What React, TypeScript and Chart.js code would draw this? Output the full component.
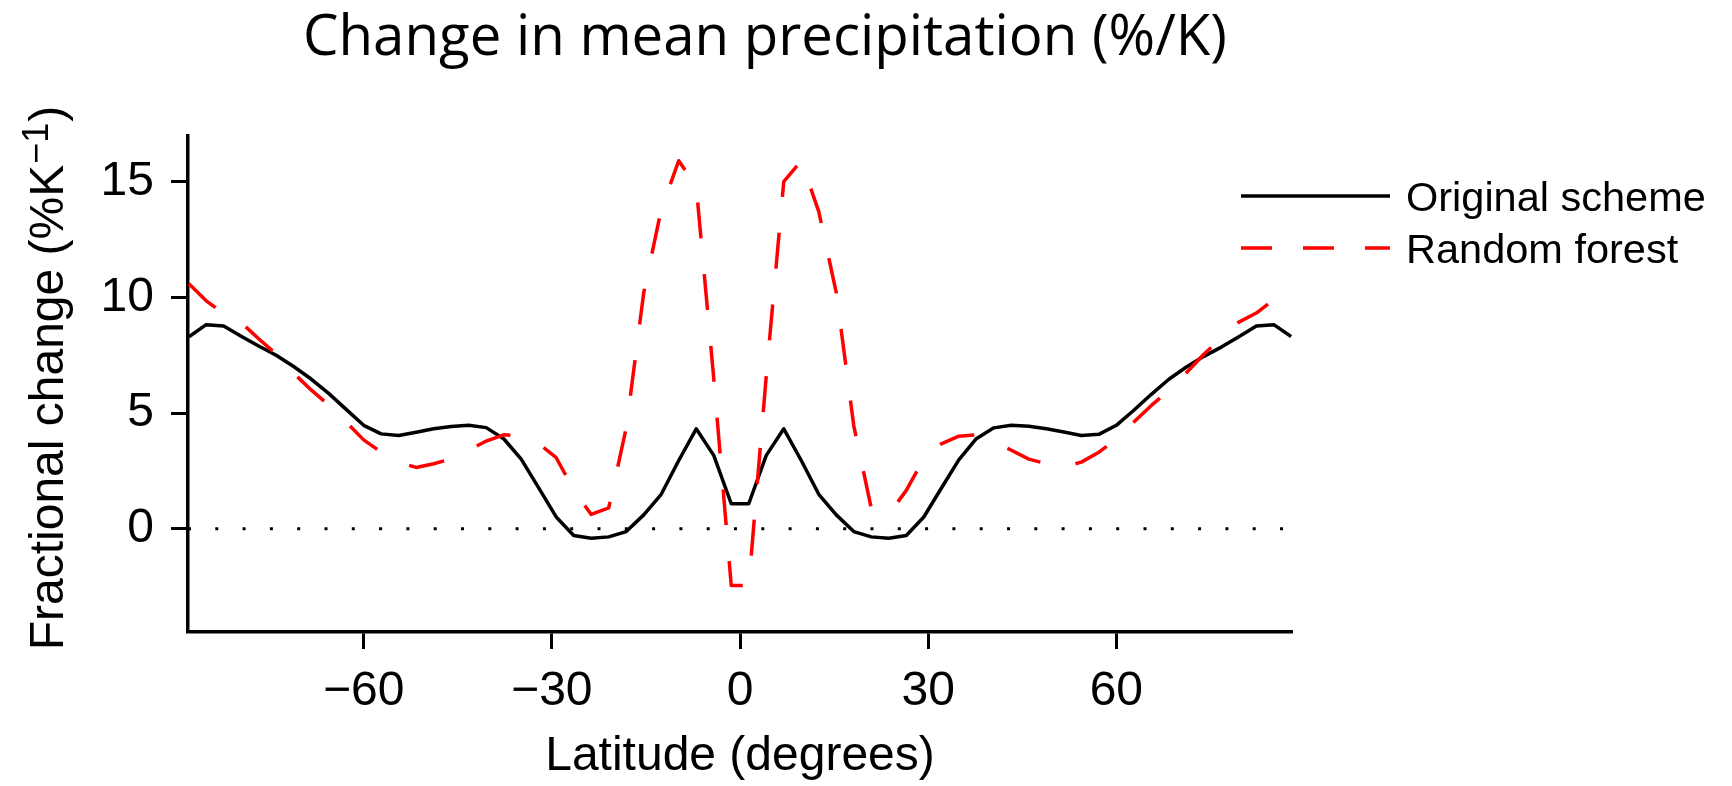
import React, { useEffect, useRef } from "react";
import { Chart, registerables } from "chart.js";

Chart.register(...registerables);

// ---------- data ----------
const latitude = [
  -87.8638, -85.0965, -82.3129, -79.5256, -76.7369, -73.9475, -71.1578, -68.3678,
  -65.5776, -62.7874, -59.997, -57.2066, -54.4162, -51.6257, -48.8352, -46.0447,
  -43.2542, -40.4636, -37.6731, -34.8825, -32.092, -29.3014, -26.5108, -23.7202,
  -20.9296, -18.139, -15.3484, -12.5578, -9.7671, -6.9765, -4.1859, -1.3953,
  1.3953, 4.1859, 6.9765, 9.7671, 12.5578, 15.3484, 18.139, 20.9296,
  23.7202, 26.5108, 29.3014, 32.092, 34.8825, 37.6731, 40.4636, 43.2542,
  46.0447, 48.8352, 51.6257, 54.4162, 57.2066, 59.997, 62.7874, 65.5776,
  68.3678, 71.1578, 73.9475, 76.7369, 79.5256, 82.3129, 85.0965, 87.8638,
];

const originalScheme = [
  8.29, 8.82, 8.76, 8.32, 7.9, 7.5, 7.01, 6.47, 5.85, 5.16,
  4.47, 4.1, 4.03, 4.17, 4.32, 4.42, 4.47, 4.37, 3.89, 3.01,
  1.77, 0.51, -0.29, -0.41, -0.35, -0.12, 0.6, 1.49, 2.95, 4.32,
  3.17, 1.08,
  1.08, 3.17, 4.32, 2.95, 1.49, 0.6, -0.12, -0.35, -0.41, -0.29,
  0.51, 1.75, 2.98, 3.89, 4.36, 4.47, 4.43, 4.32, 4.18, 4.03,
  4.08, 4.47, 5.12, 5.81, 6.46, 6.99, 7.45, 7.85, 8.3, 8.76,
  8.82, 8.31,
];

const randomForest = [
  10.59, 9.85, 9.3, 8.91, 8.21, 7.55, 6.72, 6.0, 5.35, 4.61,
  3.84, 3.31, 2.87, 2.65, 2.81, 3.02, 3.39, 3.79, 4.06, 4.0,
  3.68, 3.07, 1.68, 0.62, 0.9, 4.35, 10.2, 13.8, 15.9, 14.8,
  6.5, -2.45,
  -2.45, 6.6, 15.0, 15.9, 13.7, 10.2, 4.45, 0.88, 0.62, 1.66,
  3.03, 3.67, 4.0, 4.06, 3.79, 3.39, 3.01, 2.81, 2.67, 2.88,
  3.31, 3.86, 4.61, 5.33, 5.98, 6.74, 7.54, 8.24, 8.93, 9.32,
  9.9, 10.59,
];

const seriesLabels = ["Original scheme", "Random forest"];
const xTickValues = [-60, -30, 0, 30, 60];
const yTickValues = [0, 5, 10, 15];
const xRange = [-88, 88];
const yRange = [-4.46, 16.97];
const zeroLevel = 0;

const chartTitle = "Change in mean precipitation (%/K)";
const xAxisTitle = "Latitude (degrees)";
const yAxisTitleMain = "Fractional change (%K";
const yAxisTitleSup = "\u22121";
const yAxisTitleEnd = ")";

// ---------- styling ----------
const W = 1732;
const H = 786;
const PLOT = { left: 188, right: 1292, top: 136, bottom: 632 };
const AXIS_FONT = '"Liberation Sans", Arial, Helvetica, sans-serif';
const RED = "#ff0000";
const PLOT_DASH = [36, 36];
const LEGEND_DASH = [31, 31];
const LINE_W = 3.5;

const fmtTick = (v: number) => (v < 0 ? "\u2212" + Math.abs(v) : String(v));

const decorPlugin = {
  id: "decor",
  afterDraw(chart: any) {
    const ctx: CanvasRenderingContext2D = chart.ctx;
    const area = chart.chartArea;
    ctx.save();
    ctx.fillStyle = "#000";
    ctx.textAlign = "left";
    ctx.textBaseline = "alphabetic";

    // Title
    ctx.font = '56px "Open Sans", Lato, sans-serif';
    const tw = ctx.measureText(chartTitle).width;
    const targetW = 924;
    ctx.save();
    ctx.translate(765 - targetW / 2, 55);
    ctx.scale(targetW / tw, 1);
    ctx.fillText(chartTitle, 0, 0);
    ctx.restore();

    // X axis title
    ctx.font = "48px " + AXIS_FONT;
    ctx.textAlign = "center";
    ctx.fillText(xAxisTitle, (area.left + area.right) / 2, 770);

    // Y axis title (rotated, with superscript)
    ctx.textAlign = "left";
    ctx.font = "48px " + AXIS_FONT;
    const w1 = ctx.measureText(yAxisTitleMain).width;
    const w3 = ctx.measureText(yAxisTitleEnd).width;
    ctx.font = "36px " + AXIS_FONT;
    const w2 = ctx.measureText(yAxisTitleSup).width;
    const total = w1 + w2 + w3 + 2;
    ctx.save();
    ctx.translate(63, (area.top + area.bottom) / 2 - 6);
    ctx.rotate(-Math.PI / 2);
    let pos = -total / 2;
    ctx.font = "48px " + AXIS_FONT;
    ctx.fillText(yAxisTitleMain, pos, 0);
    pos += w1 + 1;
    ctx.font = "36px " + AXIS_FONT;
    ctx.fillText(yAxisTitleSup, pos, -15);
    pos += w2 + 1;
    ctx.font = "48px " + AXIS_FONT;
    ctx.fillText(yAxisTitleEnd, pos, 0);
    ctx.restore();

    // Legend
    const legendItems = [
      { label: seriesLabels[0], color: "#000", dash: [] as number[], y: 196 },
      { label: seriesLabels[1], color: RED, dash: LEGEND_DASH, y: 248 },
    ];
    ctx.font = "41.5px " + AXIS_FONT;
    for (const it of legendItems) {
      ctx.save();
      ctx.strokeStyle = it.color;
      ctx.lineWidth = LINE_W;
      ctx.lineCap = "butt";
      ctx.setLineDash(it.dash);
      ctx.beginPath();
      ctx.moveTo(1241, it.y);
      ctx.lineTo(1390, it.y);
      ctx.stroke();
      ctx.restore();
      ctx.fillStyle = "#000";
      ctx.fillText(it.label, 1406, it.y + 15);
    }
    ctx.restore();
  },
};

export default function App() {
  const canvasRef = useRef<HTMLCanvasElement | null>(null);

  useEffect(() => {
    const canvas = canvasRef.current;
    if (!canvas) return;

    const toPoints = (ys: number[]) => latitude.map((x, i) => ({ x, y: ys[i] }));

    const chart = new Chart(canvas, {
      type: "line",
      data: {
        datasets: [
          {
            label: seriesLabels[1],
            data: toPoints(randomForest),
            borderColor: RED,
            borderWidth: LINE_W,
            borderDash: PLOT_DASH,
            borderCapStyle: "butt",
            borderJoinStyle: "round",
            pointRadius: 0,
            tension: 0,
            fill: false,
          },
          {
            label: seriesLabels[0],
            data: toPoints(originalScheme),
            borderColor: "#000",
            borderWidth: LINE_W,
            borderJoinStyle: "round",
            pointRadius: 0,
            tension: 0,
            fill: false,
          },
          {
            label: "zero",
            data: [
              { x: xRange[0], y: zeroLevel },
              { x: xRange[1], y: zeroLevel },
            ],
            borderColor: "#000",
            borderWidth: 3,
            borderDash: [3, 24.3],
            borderCapStyle: "butt",
            pointRadius: 0,
            fill: false,
          },
        ],
      },
      options: {
        animation: false,
        responsive: false,
        maintainAspectRatio: false,
        devicePixelRatio: 1,
        events: [],
        layout: {
          padding: { left: 0, right: W - PLOT.right, top: PLOT.top, bottom: 0 },
        },
        plugins: {
          legend: { display: false },
          title: { display: false },
          tooltip: { enabled: false },
        },
        scales: {
          x: {
            type: "linear",
            position: "bottom",
            min: xRange[0],
            max: xRange[1],
            afterFit: (s: any) => {
              s.height = H - PLOT.bottom;
            },
            afterBuildTicks: (s: any) => {
              s.ticks = xTickValues.map((v) => ({ value: v }));
            },
            grid: {
              display: true,
              drawOnChartArea: false,
              drawTicks: true,
              tickLength: 17,
              tickWidth: 3,
              tickColor: "#000",
            },
            border: { display: true, color: "#000", width: 3.5 },
            ticks: {
              color: "#000",
              font: { family: AXIS_FONT, size: 48 },
              padding: 14,
              maxRotation: 0,
              minRotation: 0,
              autoSkip: false,
              callback: (v: any) => fmtTick(Number(v)),
            },
          },
          y: {
            type: "linear",
            position: "left",
            min: yRange[0],
            max: yRange[1],
            afterFit: (s: any) => {
              s.width = PLOT.left;
            },
            afterBuildTicks: (s: any) => {
              s.ticks = yTickValues.map((v) => ({ value: v }));
            },
            grid: {
              display: true,
              drawOnChartArea: false,
              drawTicks: true,
              tickLength: 17,
              tickWidth: 3,
              tickColor: "#000",
            },
            border: { display: true, color: "#000", width: 3.5 },
            ticks: {
              color: "#000",
              font: { family: AXIS_FONT, size: 48 },
              padding: 17,
              autoSkip: false,
              callback: (v: any) => fmtTick(Number(v)),
            },
          },
        },
      },
      plugins: [decorPlugin],
    } as any);

    return () => {
      chart.destroy();
    };
  }, []);

  return (
    <div
      style={{
        position: "absolute",
        left: 0,
        top: 0,
        width: W,
        height: H,
        background: "#fff",
      }}
    >
      <canvas ref={canvasRef} width={W} height={H} style={{ width: W, height: H, display: "block" }} />
    </div>
  );
}
